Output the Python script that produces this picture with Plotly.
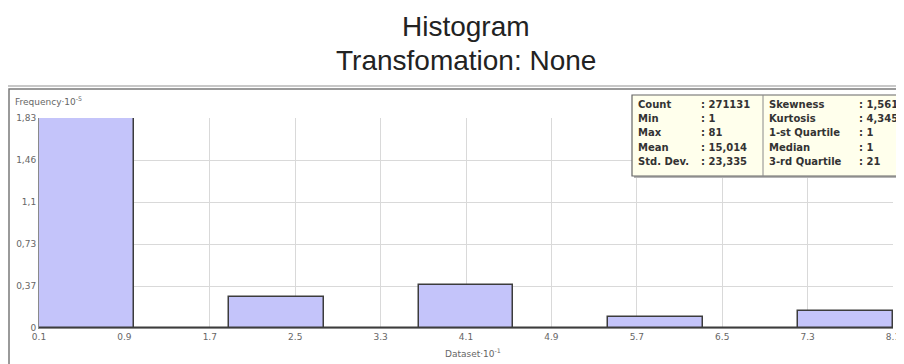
import numpy as np
import plotly.graph_objects as go

# ---- data ----
x_min, x_max = 0.1, 8.1          # Dataset·10^-1
n_bins = 9
frequency = [1.83, 0.0, 0.27, 0.0, 0.375, 0.0, 0.095, 0.0, 0.145]   # ×10^5
x_tick_vals = [0.1, 0.9, 1.7, 2.5, 3.3, 4.1, 4.9, 5.7, 6.5, 7.3, 8.1]
x_tick_text = ["0.1", "0.9", "1.7", "2.5", "3.3", "4.1", "4.9", "5.7", "6.5", "7.3", "8.1"]
y_tick_vals = [0, 0.366, 0.732, 1.098, 1.464, 1.83]
y_tick_text = ["0", "0,37", "0,73", "1,1", "1,46", "1,83"]
stats_left = [("Count", "271131"), ("Min", "1"), ("Max", "81"), ("Mean", "15,014"), ("Std. Dev.", "23,335")]
stats_right = [("Skewness", "1,5619"), ("Kurtosis", "4,345"), ("1-st Quartile", "1"), ("Median", "1"), ("3-rd Quartile", "21")]

edges = np.linspace(x_min, x_max, n_bins + 1)
centers = (edges[:-1] + edges[1:]) / 2
bin_w = edges[1] - edges[0]

# page is 904x364; the html body has an 8px margin, so the figure is offset by 8px
OFF = 8
PW, PH = 904, 364
W, H = PW - OFF, PH - OFF
L, R, T, B = 39, 893, 118, 328      # plot area in page pixels


def px(p):
    return (p - L) / (R - L)


def py(p):
    return (B - p) / (B - T)


fig = go.Figure()
fig.add_trace(go.Bar(
    x=centers, y=frequency, width=bin_w,
    marker=dict(color="#C4C4FA", line=dict(color="#3c3c3c", width=1.5)),
    hoverinfo="x+y",
))

shapes = []
shapes.append(dict(type="line", xref="paper", yref="paper", x0=px(0), x1=px(PW + 5), y0=py(86), y1=py(86),
                   line=dict(color="#c8c8c8", width=2), layer="below"))
shapes.append(dict(type="rect", xref="paper", yref="paper", x0=px(9), x1=px(PW + 10), y0=py(89), y1=py(PH + 10),
                   line=dict(color="#7a7a7a", width=1.5), layer="below"))
shapes.append(dict(type="rect", xref="paper", yref="paper", x0=px(634), x1=px(PW + 10), y0=py(97), y1=py(178),
                   line=dict(width=0), fillcolor="#b5b5b5"))
shapes.append(dict(type="rect", xref="paper", yref="paper", x0=px(632), x1=px(PW + 10), y0=py(95), y1=py(176),
                   line=dict(color="#666666", width=1.2), fillcolor="#FFFFEC"))
shapes.append(dict(type="line", xref="paper", yref="paper", x0=px(763), x1=px(763), y0=py(95), y1=py(176),
                   line=dict(color="#8a8a8a", width=1)))

ann = []
tf = dict(family="Liberation Sans, Arial", size=28, color="#222")
ann.append(dict(text="Histogram", x=0.5, y=py(26), xref="paper", yref="paper", showarrow=False,
                xanchor="center", yanchor="middle", font=tf))
ann.append(dict(text="Transfomation: None", x=0.5, y=py(60), xref="paper", yref="paper", showarrow=False,
                xanchor="center", yanchor="middle", font=tf))
ann.append(dict(text="Frequency·10<sup>-5</sup>", x=px(13), y=py(101), xref="paper", yref="paper", showarrow=False,
                xanchor="left", yanchor="middle", font=dict(family="DejaVu Sans", size=9, color="#666")))
ann.append(dict(text="Dataset·10<sup>-1</sup>", x=px(443), y=py(353), xref="paper", yref="paper", showarrow=False,
                xanchor="left", yanchor="middle", font=dict(family="DejaVu Sans", size=9, color="#666")))

row_y = [104, 118, 132, 147, 161]
sf = dict(family="DejaVu Sans", size=10, color="#333")
for (lab, val), yy in zip(stats_left, row_y):
    ann.append(dict(text=f"<b>{lab}</b>", x=px(636), y=py(yy), xref="paper", yref="paper", showarrow=False,
                    xanchor="left", yanchor="middle", font=sf))
    ann.append(dict(text=f"<b>: {val}</b>", x=px(699), y=py(yy), xref="paper", yref="paper", showarrow=False,
                    xanchor="left", yanchor="middle", font=sf))
for (lab, val), yy in zip(stats_right, row_y):
    ann.append(dict(text=f"<b>{lab}</b>", x=px(767), y=py(yy), xref="paper", yref="paper", showarrow=False,
                    xanchor="left", yanchor="middle", font=sf))
    ann.append(dict(text=f"<b>: {val}</b>", x=px(857), y=py(yy), xref="paper", yref="paper", showarrow=False,
                    xanchor="left", yanchor="middle", font=sf))

fig.update_layout(
    width=W, height=H, autosize=False,
    margin=dict(l=L - OFF, r=W - (R - OFF), t=T - OFF, b=H - (B - OFF), pad=0, autoexpand=False),
    paper_bgcolor="white", plot_bgcolor="white",
    showlegend=False, bargap=0,
    shapes=shapes, annotations=ann,
    xaxis=dict(range=[x_min, x_max], tickvals=x_tick_vals, ticktext=x_tick_text, automargin=False,
               showgrid=True, gridcolor="#d9d9d9", gridwidth=1, zeroline=False,
               showline=True, linecolor="#8a8a8a", linewidth=1, ticks="",
               tickfont=dict(family="DejaVu Sans", size=9, color="#666")),
    yaxis=dict(range=[0, 1.83], tickvals=y_tick_vals, ticktext=y_tick_text, automargin=False,
               showgrid=True, gridcolor="#d9d9d9", gridwidth=1, zeroline=False,
               showline=True, linecolor="#8a8a8a", linewidth=1, ticks="",
               tickfont=dict(family="DejaVu Sans", size=9, color="#666")),
)

fig.write_html("out.html",
               post_script="document.documentElement.style.overflow='hidden';document.body.style.overflow='hidden';")
